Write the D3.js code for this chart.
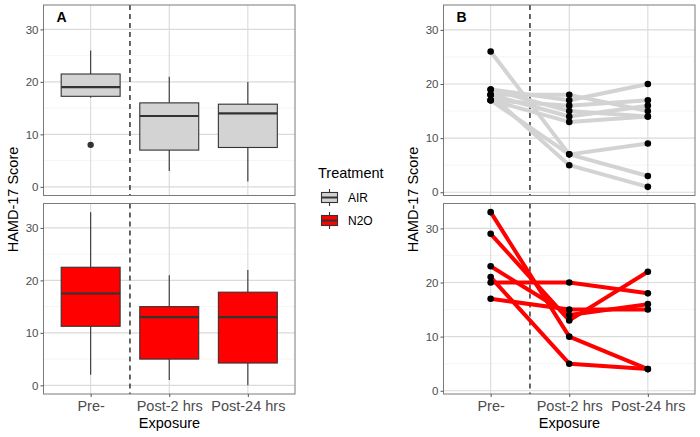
<!DOCTYPE html>
<html><head><meta charset="utf-8">
<script src="https://cdn.jsdelivr.net/npm/d3@7/dist/d3.min.js"></script>
<style>body{margin:0;background:#fff}svg{display:block;font-family:Arial,"Liberation Sans",sans-serif}</style>
</head><body><svg id="c" width="700" height="437"></svg>
<script>
const categories = ["Pre-", "Post-2 hrs", "Post-24 hrs"];
const treatments = ["AIR", "N2O"];
const yTicks = [0, 10, 20, 30];
const yMinorTicks = [5, 15, 25];
// Panel A box statistics per category
const airWhiskerLow = [17, 3, 1];
const airQ1 = [17.25, 7, 7.5];
const airMedian = [19, 13.5, 14];
const airQ3 = [21.5, 16, 15.75];
const airWhiskerHigh = [26, 21, 20];
const airOutliers = [[8], [], []];
const n2oWhiskerLow = [2, 1, 0];
const n2oQ1 = [11.25, 5, 4.25];
const n2oMedian = [17.5, 13, 13];
const n2oQ3 = [22.5, 15, 17.75];
const n2oWhiskerHigh = [33, 21, 22];
const n2oOutliers = [[], [], []];
// Panel B individual trajectories (Pre-, Post-2, Post-24)
const airSubjects = [
  [26, 7, 3], [17, 7, 9], [18, 5, 1], [19, 17, 20], [18, 18, 15],
  [17, 16, 17], [19, 15, 14], [18, 14, 16], [17, 13, 14]
];
const n2oSubjects = [
  [33, 10, 4], [29, 13, 22], [23, 14, 16], [21, 5, 4], [20, 20, 18], [17, 15, 15]
];
const fills = {AIR: "#D3D3D3", N2O: "#FF0000"};

const svg = d3.select("#c");
const panelTopY = [5, 203.5];
const panelH = 190.5;
const colsX = [[43.5, 295], [443.5, 695]];
const yDomA = [-1.65, 34.65], yDomB = [-0.6, 34.6];

function drawPanel(px, py, yDom, isBottom, label, drawContent) {
  const x = d3.scalePoint().domain(categories).range(px).padding(0.6);
  const y = d3.scaleLinear().domain(yDom).range([py + panelH, py]);
  const g = svg.append("g");
  g.append("rect").attr("x", px[0]).attr("y", py).attr("width", px[1]-px[0]).attr("height", panelH).attr("fill", "#fff");
  yMinorTicks.forEach(t => g.append("line").attr("x1", px[0]).attr("x2", px[1]).attr("y1", y(t)).attr("y2", y(t)).attr("stroke", "#f0f0f0").attr("stroke-width", 0.7));
  yTicks.forEach(t => g.append("line").attr("x1", px[0]).attr("x2", px[1]).attr("y1", y(t)).attr("y2", y(t)).attr("stroke", "#dadada").attr("stroke-width", 1.1));
  categories.forEach(c => g.append("line").attr("x1", x(c)).attr("x2", x(c)).attr("y1", py).attr("y2", py+panelH).attr("stroke", "#dadada").attr("stroke-width", 1.1));
  const xd = (x(categories[0]) + x(categories[1])) / 2;
  g.append("line").attr("x1", xd).attr("x2", xd).attr("y1", py).attr("y2", py+panelH).attr("stroke", "#333").attr("stroke-width", 1.5).attr("stroke-dasharray", "5,4");
  drawContent(g, x, y);
  g.append("rect").attr("x", px[0]).attr("y", py).attr("width", px[1]-px[0]).attr("height", panelH).attr("fill", "none").attr("stroke", "#7a7a7a").attr("stroke-width", 1);
  const ya = g.append("g").attr("transform", `translate(${px[0]},0)`).call(d3.axisLeft(y).tickValues(yTicks).tickSize(3).tickPadding(2));
  ya.select(".domain").remove();
  ya.selectAll(".tick line").attr("stroke", "#555");
  ya.selectAll(".tick text").attr("fill", "#4d4d4d").attr("font-size", "11.5px").attr("font-family", "Arial, Liberation Sans, sans-serif");
  if (isBottom) {
    const xa = g.append("g").attr("transform", `translate(0,${py+panelH})`).call(d3.axisBottom(x).tickSize(3).tickPadding(4));
    xa.select(".domain").remove();
    xa.selectAll(".tick line").attr("stroke", "#555");
    xa.selectAll(".tick text").attr("fill", "#4d4d4d").attr("font-size", "14.5px").attr("font-family", "Arial, Liberation Sans, sans-serif");
  }
  if (label) g.append("text").attr("x", px[0] + 13).attr("y", py + 17).attr("font-weight", "bold").attr("font-size", "14px").attr("fill", "#000").text(label);
}

function boxes(lo, q1, med, q3, hi, outs, fill) {
  return (g, x, y) => {
    const bw = x.step() * 0.75;
    categories.forEach((c, i) => {
      const cx = x(c);
      g.append("line").attr("x1", cx).attr("x2", cx).attr("y1", y(hi[i])).attr("y2", y(q3[i])).attr("stroke", "#333").attr("stroke-width", 1.1);
      g.append("line").attr("x1", cx).attr("x2", cx).attr("y1", y(q1[i])).attr("y2", y(lo[i])).attr("stroke", "#333").attr("stroke-width", 1.1);
      g.append("rect").attr("x", cx - bw/2).attr("y", y(q3[i])).attr("width", bw).attr("height", y(q1[i]) - y(q3[i])).attr("fill", fill).attr("stroke", "#333").attr("stroke-width", 1.1);
      g.append("line").attr("x1", cx - bw/2).attr("x2", cx + bw/2).attr("y1", y(med[i])).attr("y2", y(med[i])).attr("stroke", "#333").attr("stroke-width", 2.2);
      outs[i].forEach(o => g.append("circle").attr("cx", cx).attr("cy", y(o)).attr("r", 3.2).attr("fill", "#333"));
    });
  };
}
function lines(subjects, color) {
  return (g, x, y) => {
    const ln = d3.line().x((d, i) => x(categories[i])).y(d => y(d));
    subjects.forEach(s => g.append("path").attr("d", ln(s)).attr("fill", "none").attr("stroke", color).attr("stroke-width", 4).attr("stroke-linejoin", "round"));
    subjects.forEach(s => s.forEach((v, i) => g.append("circle").attr("cx", x(categories[i])).attr("cy", y(v)).attr("r", 3.3).attr("fill", "#000")));
  };
}

drawPanel(colsX[0], panelTopY[0], yDomA, false, "A", boxes(airWhiskerLow, airQ1, airMedian, airQ3, airWhiskerHigh, airOutliers, fills.AIR));
drawPanel(colsX[0], panelTopY[1], yDomA, true, null, boxes(n2oWhiskerLow, n2oQ1, n2oMedian, n2oQ3, n2oWhiskerHigh, n2oOutliers, fills.N2O));
drawPanel(colsX[1], panelTopY[0], yDomB, false, "B", lines(airSubjects, fills.AIR));
drawPanel(colsX[1], panelTopY[1], yDomB, true, null, lines(n2oSubjects, fills.N2O));

// axis titles
[[13, 169.5], [413, 569.5]].forEach(([yx, xc]) => {
  svg.append("text").attr("transform", `translate(${yx + 5},199.5) rotate(-90)`).attr("text-anchor", "middle").attr("font-size", "14.5px").attr("fill", "#000").text("HAMD-17 Score");
  svg.append("text").attr("x", xc).attr("y", 428).attr("text-anchor", "middle").attr("font-size", "14.5px").attr("fill", "#000").text("Exposure");
});

// legend
const lg = svg.append("g");
lg.append("text").attr("x", 318).attr("y", 178).attr("font-size", "14.5px").attr("fill", "#000").text("Treatment");
treatments.forEach((t, i) => {
  const ky = 188 + i * 23, kx = 320, kw = 19, kh = 19;
  const cx = kx + kw/2;
  lg.append("line").attr("x1", cx).attr("x2", cx).attr("y1", ky + 1).attr("y2", ky + kh - 1).attr("stroke", "#333").attr("stroke-width", 1.1);
  lg.append("rect").attr("x", kx + 1.5).attr("y", ky + 4.5).attr("width", kw - 3).attr("height", kh - 9).attr("fill", fills[t]).attr("stroke", "#333").attr("stroke-width", 1.1);
  lg.append("line").attr("x1", kx + 1.5).attr("x2", kx + kw - 1.5).attr("y1", ky + kh/2).attr("y2", ky + kh/2).attr("stroke", "#333").attr("stroke-width", 2);
  lg.append("text").attr("x", 348).attr("y", ky + kh/2 + 4.5).attr("font-size", "12px").attr("fill", "#000").text(t);
});
</script></body></html>
